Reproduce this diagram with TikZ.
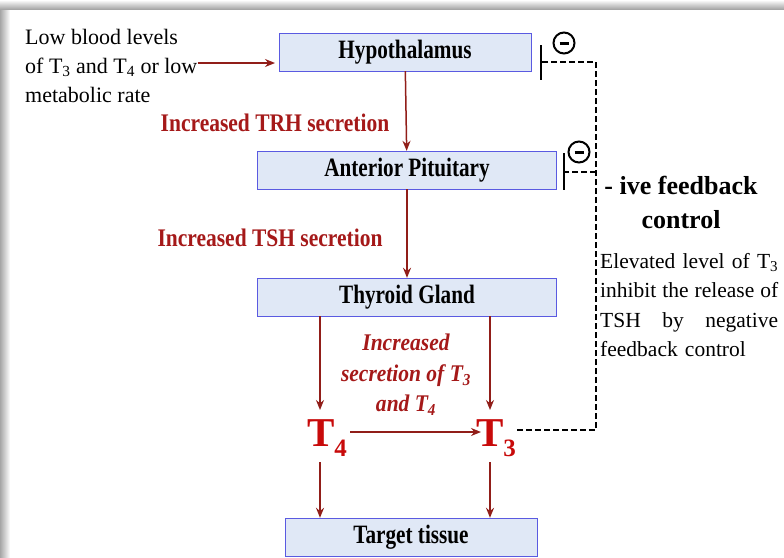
\documentclass[tikz,border=0pt]{standalone}
\usepackage{fontspec}
\setmainfont{Liberation Serif}
\newfontfamily\organfont[FakeStretch=0.8]{Liberation Serif}
\newfontfamily\redfont[FakeStretch=0.85]{Liberation Serif}
\newfontfamily\slantfont[FakeStretch=0.9]{Liberation Serif}
\usetikzlibrary{arrows.meta}
\definecolor{boxfill}{RGB}{224,232,246}
\definecolor{boxline}{RGB}{90,90,225}
\definecolor{arrowred}{RGB}{145,30,25}
\definecolor{labelred}{RGB}{165,25,25}
\definecolor{hormred}{RGB}{200,10,10}

\begin{document}
\begin{tikzpicture}[x=1pt,y=-1pt]
\tikzstyle{organ}=[draw=boxline,fill=boxfill,minimum height=38pt,inner sep=0pt,font=\organfont\fontsize{26.5}{28}\selectfont\bfseries]
\tikzstyle{flow}=[draw=arrowred,line width=1.5pt,-{Stealth[length=10pt,width=8pt]}]
\tikzstyle{lbl}=[text=labelred,font=\redfont\fontsize{25.3}{27}\selectfont\bfseries]
\tikzstyle{hormone}=[text=hormred,inner sep=0pt,anchor=base,font=\fontsize{41}{44}\selectfont\bfseries]
\tikzstyle{fb}=[draw,line width=1.5pt,dash pattern=on 6pt off 3pt]
\tikzstyle{minus}=[draw,circle,line width=2pt,inner sep=0pt,minimum size=21pt]
\useasboundingbox (0,0) rectangle (784,557);
\fill [white] (0,0) rectangle (784,557);
\shade [left color=gray!70,right color=white] (0,0) rectangle (10,557);
\shade [top color=white,bottom color=gray!70] (0,0) rectangle (784,9);
\node [organ,minimum width=252pt] (hyp) at (405,52) {Hypothalamus};
\node [organ,minimum width=299pt] (ant) at (407,170) {Anterior Pituitary};
\node [organ,minimum width=299pt] (thy) at (407,297) {Thyroid Gland};
\node [organ,minimum width=252pt] (tgt) at (411,537) {Target tissue};
\node [align=left,anchor=north west,inner sep=0pt,font=\fontsize{22}{29}\selectfont] (cue) at (25,29) {Low blood levels\\of T\textsubscript{3} and T\textsubscript{4} or low\\metabolic rate};
\node [lbl] (trh) at (275,123) {Increased TRH secretion};
\node [lbl] (tsh) at (270,238) {Increased TSH secretion};
\node [lbl,align=center,font=\slantfont\fontsize{23.9}{30.5}\selectfont\bfseries\itshape] (sec) at (406,375) {Increased\\secretion of \textit{T}\textsubscript{3}\\and \textit{T}\textsubscript{4}};
\node [hormone] (t4) at (327,446) {T\raisebox{-10pt}{\fontsize{25}{25}\selectfont 4}};
\node [hormone] (t3) at (496,446) {T\raisebox{-10pt}{\fontsize{25}{25}\selectfont 3}};
\node [minus] (m1) at (564,43) {\rule{9pt}{3pt}};
\node [minus] (m2) at (579,152) {\rule{9pt}{3pt}};
\node [align=center,font=\fontsize{26}{34}\selectfont\bfseries] (fbhead) at (681,202) {- ive feedback\\control};
\node [anchor=north west,text width=178pt,align=left,inner sep=0pt,font=\fontsize{21.5}{29.5}\selectfont] (fbtext) at (600,253) {\makebox[178pt][l]{Elevated\hfill level\hfill of\hfill T\textsubscript{3}}\\\makebox[178pt][l]{inhibit\hfill the\hfill release\hfill of}\\\makebox[178pt][l]{TSH\hfill by\hfill negative}\\feedback control};
\coordinate (bar1) at (541,62);
\coordinate (bar2) at (564,172);
\coordinate (corner) at (596,430);
\draw [line width=1.8pt] (541,45) -- (541,80);
\draw [line width=1.8pt] (564,153) -- (564,190);
\draw [flow] (cue.east |- 0,63) -- (275,63);
\draw [flow] (hyp) -- (ant);
\draw [flow] (ant) -- (thy);
\draw [flow] (thy.south -| 320,0) -- (320,410);
\draw [flow] (thy.south -| 490,0) -- (490,410);
\draw [flow] (350,432) -- (481,432);
\draw [flow] (320,462) -- (tgt.north -| 320,0);
\draw [flow] (490,462) -- (tgt.north -| 490,0);
\draw [fb] (517,430) -- (corner) -- (bar1 -| corner) -- (bar1);
\draw [fb] (bar2 -| corner) -- (bar2);
\end{tikzpicture}
\end{document}
